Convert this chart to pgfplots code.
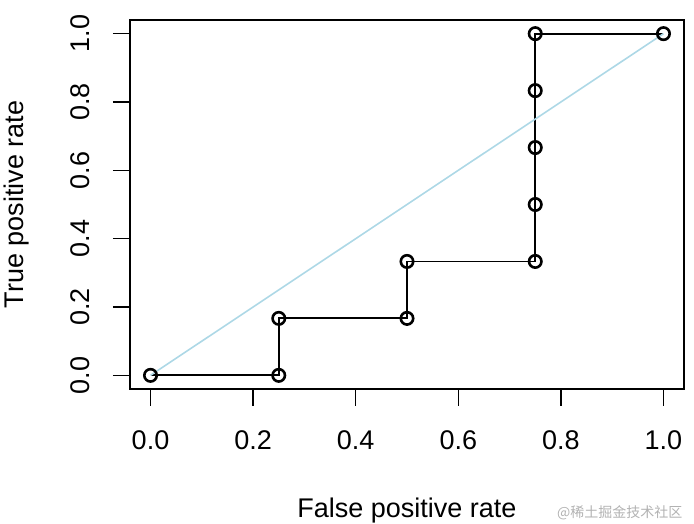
\documentclass[border=0pt]{standalone}
\usepackage{fontspec}
\setmainfont{Liberation Sans}
\newfontfamily\cjk{Noto Sans CJK SC}
\usepackage{pgfplots}
\pgfplotsset{compat=1.18}

\definecolor{rlightblue}{HTML}{ADD8E6}

\begin{document}
\begin{tikzpicture}
\begin{axis}[
    at={(0,0)}, anchor=south west,
    scale only axis,
    width=554pt, height=369pt,
    xmin=-0.04, xmax=1.04,
    ymin=-0.04, ymax=1.04,
    xtick={0,0.2,0.4,0.6,0.8,1.0},
    ytick={0,0.2,0.4,0.6,0.8,1.0},
    xticklabel={\pgfmathprintnumber[fixed,fixed zerofill,precision=1]{\tick}},
    yticklabel={\pgfmathprintnumber[fixed,fixed zerofill,precision=1]{\tick}},
    /pgf/number format/assume math mode=true,
    tick align=outside,
    major tick length=17pt,
    xtick pos=bottom, ytick pos=left,
    axis line style={line width=1.4pt},
    every tick/.style={line width=1.4pt, black},
    font=\fontsize{27}{32}\selectfont,
    xticklabel style={anchor=base, yshift=-44pt},
    yticklabel style={rotate=90, anchor=base},
    yticklabel shift=23pt,
    xlabel={False positive rate},
    ylabel={True positive rate},
    xlabel style={at={(axis description cs:0.5,-0.347)}, anchor=base},
    ylabel style={at={(axis description cs:-0.193,0.5)}, anchor=base, rotate=0},
    clip=false,
]
% ROC step curve
\addplot[black, line width=1.8pt, mark=o, mark size=6.2pt,
    mark options={line width=2.6pt}] coordinates {
    (0,0) (0.25,0) (0.25,0.1667) (0.5,0.1667) (0.5,0.3333)
    (0.75,0.3333) (0.75,0.5) (0.75,0.6667) (0.75,0.8333) (0.75,1) (1,1)
};
% diagonal
\addplot[rlightblue, line width=1.6pt] coordinates {(0,0) (1,1)};
\end{axis}
\node[anchor=east, text=black!30, font=\cjk\fontsize{14}{16}\selectfont] at (556pt,-124pt) {@稀土掘金技术社区};
\pgfresetboundingbox
\path[use as bounding box] (-130pt,-135pt) rectangle (564pt,389pt);
\end{tikzpicture}
\end{document}
